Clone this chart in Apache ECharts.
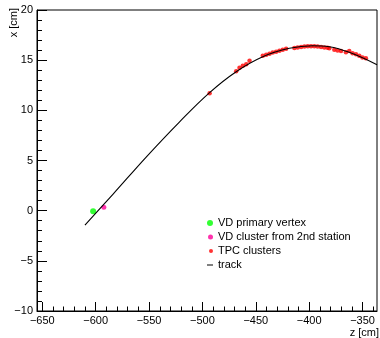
<!DOCTYPE html>
<html>
<head>
<meta charset="utf-8">
<style>
  html, body { margin: 0; padding: 0; background: #fff; }
  #chart { width: 380px; height: 338px; }
</style>
<script src="https://cdn.jsdelivr.net/npm/echarts@6/dist/echarts.min.js"></script>
</head>
<body>
<div id="chart"></div>
<script>
// Fitted track in the z-x plane (cm)
const trackZ = [-610.1, -583.7, -552.5, -521.4, -493.3, -468.4, -443.5, -418.6, -396.8, -381.2, -362.5, -336.5];
const trackX = [-1.44, 1.65, 5.37, 8.86, 11.77, 13.85, 15.34, 16.18, 16.44, 16.34, 15.78, 14.55];

// Vertex detector hits
const vertexZ = [-602.4];
const vertexX = [-0.05];
const station2Z = [-592.4];
const station2X = [0.33];

// TPC clusters
const tpcZ = [-493.3, -468.4, -465.3, -462.2, -459.0, -455.9, -443.5, -440.3, -437.2, -434.2,
              -431.0, -427.9, -424.8, -421.6, -413.9, -410.8, -407.6, -404.5, -401.4, -398.3,
              -395.2, -392.1, -388.9, -385.8, -382.8, -381.2, -376.5, -373.4, -370.2, -365.6,
              -362.5, -359.4, -356.2, -353.1, -350.1, -346.9, -336.0];
const tpcX = [11.70, 13.90, 14.24, 14.44, 14.60, 14.95, 15.43, 15.54, 15.64, 15.76,
              15.84, 15.94, 16.05, 16.14, 16.21, 16.26, 16.32, 16.36, 16.38, 16.38,
              16.38, 16.36, 16.32, 16.26, 16.24, 16.18, 16.03, 15.96, 15.91, 15.78,
              15.91, 15.68, 15.58, 15.44, 15.26, 15.18, 14.47];

// Axis ticks
const zMajorTicks = [-650, -600, -550, -500, -450, -400, -350];
const zMinorTicks = [];
for (let v = -650; v <= -340; v += 10) if (v % 50 !== 0) zMinorTicks.push(v);

const pairs = (a, b) => a.map((v, i) => [v, b[i]]);
const minus = v => (v < 0 ? '\u2212' + Math.abs(v) : String(v));

const FONT = '"Liberation Sans", Arial, sans-serif';
const Z_MIN = -655, Z_MAX = -336.5;

const chart = echarts.init(document.getElementById('chart'), null, { renderer: 'canvas' });

const legendEntry = (name, icon, w, left, centerY) => ({
  data: [name],
  icon: icon,
  itemWidth: w,
  itemHeight: 13,
  left: left,
  top: centerY - 6.5,
  padding: 0,
  selectedMode: false,
  textStyle: { fontFamily: FONT, fontSize: 11, color: '#000' }
});

chart.setOption({
  animation: false,
  backgroundColor: '#fff',
  grid: {
    left: 37, right: 3, top: 10, bottom: 27,
    show: true, borderColor: '#000', borderWidth: 1, backgroundColor: 'transparent'
  },
  legend: [
    legendEntry('VD primary vertex', 'circle', 6, 207, 224),
    legendEntry('VD cluster from 2nd station', 'circle', 5, 208, 238),
    legendEntry('TPC clusters', 'circle', 4, 209, 252),
    legendEntry('track', 'path://M0,0H6V1H0Z', 6, 207, 266)
  ],
  xAxis: [
    {
      type: 'value', min: Z_MIN, max: Z_MAX, position: 'bottom',
      axisLine: { onZero: false, lineStyle: { color: '#000', width: 1 } },
      axisTick: { inside: true, length: 9, customValues: zMajorTicks, lineStyle: { color: '#000' } },
      axisLabel: {
        customValues: zMajorTicks, formatter: minus, margin: 4,
        fontFamily: FONT, fontSize: 11, color: '#000'
      },
      splitLine: { show: false }
    },
    {
      type: 'value', min: Z_MIN, max: Z_MAX, position: 'bottom',
      axisLine: { show: false, onZero: false },
      axisTick: { show: true, inside: true, length: 4.5, customValues: zMinorTicks, lineStyle: { color: '#000' } },
      axisLabel: { show: false, customValues: zMinorTicks },
      splitLine: { show: false }
    }
  ],
  yAxis: {
    type: 'value', min: -10, max: 20, interval: 5,
    axisLine: { show: true, onZero: false, lineStyle: { color: '#000', width: 1 } },
    axisTick: { inside: true, length: 10, lineStyle: { color: '#000' } },
    minorTick: { show: true, splitNumber: 5, length: 5, lineStyle: { color: '#000' } },
    axisLabel: { formatter: minus, margin: 4, fontFamily: FONT, fontSize: 11, color: '#000' },
    splitLine: { show: false }
  },
  graphic: [
    {
      type: 'text', x: 13.5, y: 8, rotation: Math.PI / 2,
      style: { text: 'x [cm]', align: 'right', verticalAlign: 'middle', font: '11px ' + FONT, fill: '#000' }
    },
    {
      type: 'text', x: 379, y: 333,
      style: { text: 'z [cm]', align: 'right', verticalAlign: 'middle', font: '11px ' + FONT, fill: '#000' }
    }
  ],
  series: [
    {
      name: 'VD primary vertex', type: 'scatter', symbol: 'circle', symbolSize: 6,
      itemStyle: { color: '#00ff00' }, data: pairs(vertexZ, vertexX), z: 2
    },
    {
      name: 'VD cluster from 2nd station', type: 'scatter', symbol: 'circle', symbolSize: 5,
      itemStyle: { color: '#ff0099' }, data: pairs(station2Z, station2X), z: 2
    },
    {
      name: 'TPC clusters', type: 'scatter', symbol: 'circle', symbolSize: 4.5,
      itemStyle: { color: '#ff0000' }, data: pairs(tpcZ, tpcX), z: 2
    },
    {
      name: 'track', type: 'line', smooth: 0.4, showSymbol: false, symbol: 'none',
      itemStyle: { color: '#000' }, lineStyle: { color: '#000', width: 1.1 },
      data: pairs(trackZ, trackX), z: 3
    }
  ]
});
</script>
</body>
</html>
